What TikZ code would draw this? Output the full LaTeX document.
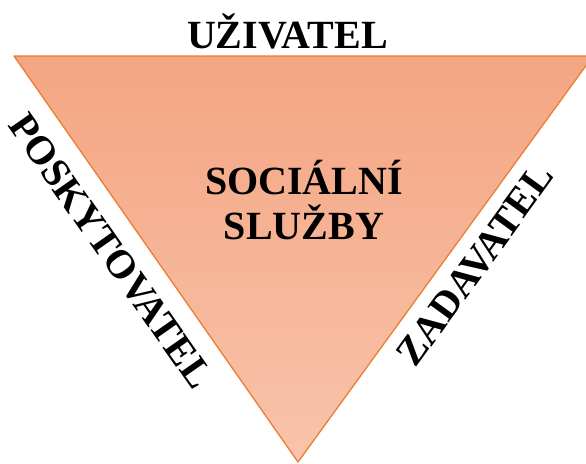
\documentclass[tikz,border=0pt]{standalone}
\usepackage{fontspec}
\setmainfont{Liberation Serif}
\usepackage{tikz}
\definecolor{edgeorange}{HTML}{ED7D31}
\definecolor{filltop}{HTML}{F4A582}
\definecolor{fillbottom}{HTML}{F8C4AB}
\tikzset{
  every picture/.style={line join=round, line cap=round},
  role/.style={font=\fontsize{40}{45}\selectfont\bfseries, inner sep=0pt},
}

\begin{document}
\begin{tikzpicture}[x=1pt,y=-1pt]
\useasboundingbox (0,0) rectangle (586,463);
\clip (0,0) rectangle (586,463);
% the triangle
\coordinate (tl) at (14,56);
\coordinate (tr) at (593,56);
\coordinate (bt) at (298,462);
\shade[top color=filltop, bottom color=fillbottom] (tl)--(tr)--(bt)--cycle;
\draw[edgeorange, line width=1.3pt] (tl)--(tr)--(bt)--cycle;
% labels
\node[role, anchor=base] (uzivatel) at (287.5,48) {UŽIVATEL};
\node[role, align=center] (sluzby) at (304,200) {SOCIÁLNÍ\\SLUŽBY};
\node[role, rotate=-55] (poskytovatel) at (111,251) {POSKYTOVATEL};
\node[role, rotate=54] (zadavatel) at (475,265) {ZADAVATEL};
\end{tikzpicture}
\end{document}
